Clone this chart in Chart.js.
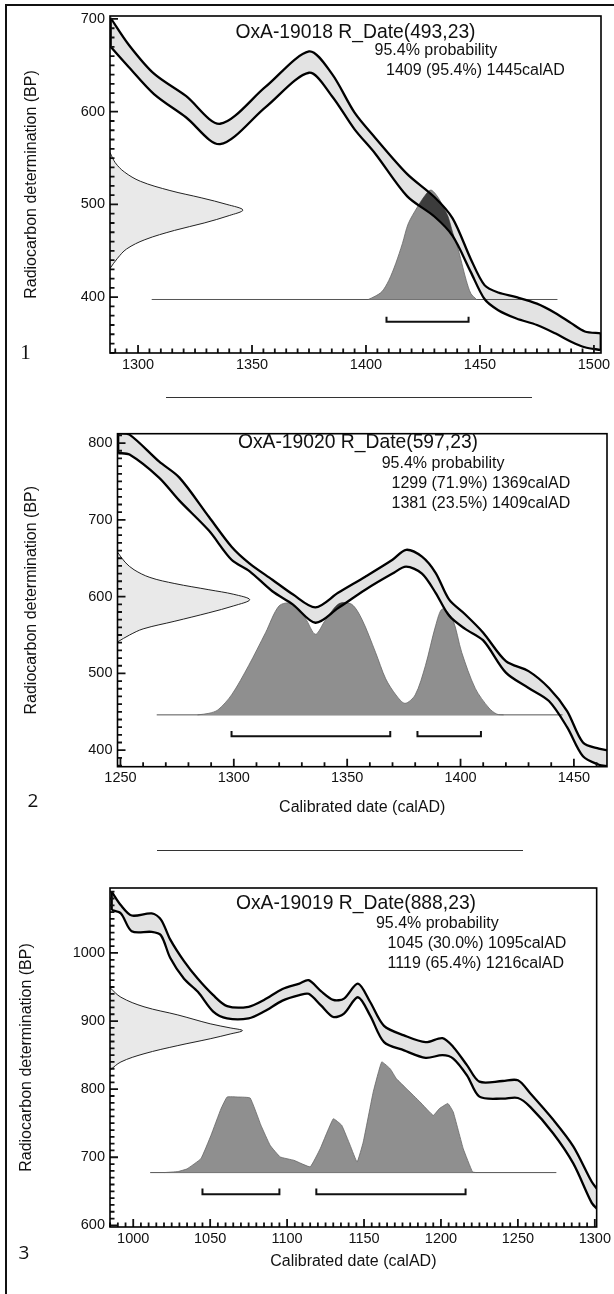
<!DOCTYPE html>
<html>
<head>
<meta charset="utf-8">
<script src="https://cdn.jsdelivr.net/npm/chart.js@4.4.0/dist/chart.umd.min.js"></script>
<style>
  html, body { margin: 0; padding: 0; background: #fff; }
  body { width: 614px; height: 1294px; position: relative; overflow: hidden;
         font-family: "Liberation Sans", Arial, sans-serif; color: #111; }
  canvas { position: absolute; left: 0; }
  .ln { position: absolute; background: #111; }
  .t { position: absolute; white-space: nowrap; line-height: 20px; }
  .ttl { font-size: 19.3px; transform: translateX(-50%); }
  .sub { font-size: 16px; }
  .num { position: absolute; line-height: 24px; transform: translateX(-50%); }
</style>
</head>
<body>
<div class="ln" style="left:5px; top:4px; width:609px; height:1.5px"></div>
<div class="ln" style="left:5px; top:4px; width:1.5px; height:1290px"></div>
<div class="ln" style="left:166px; top:396.5px; width:366px; height:1.2px; background:#333"></div>
<div class="ln" style="left:157px; top:849.5px; width:366px; height:1.2px; background:#333"></div>

<canvas id="c1" width="614" height="380" style="top:0px"></canvas>
<canvas id="c2" width="614" height="410" style="top:420px"></canvas>
<canvas id="c3" width="614" height="420" style="top:870px"></canvas>

<div class="t ttl" style="left:355.5px; top:21.7px">OxA-19018 R_Date(493,23)</div>
<div class="t sub" style="left:374.5px; top:40px">95.4% probability</div>
<div class="t sub" style="left:386px; top:60px">1409 (95.4%) 1445calAD</div>

<div class="t ttl" style="left:358px; top:431.7px">OxA-19020 R_Date(597,23)</div>
<div class="t sub" style="left:381.7px; top:453.3px">95.4% probability</div>
<div class="t sub" style="left:391.5px; top:473.3px">1299 (71.9%) 1369calAD</div>
<div class="t sub" style="left:391.5px; top:493.3px">1381 (23.5%) 1409calAD</div>

<div class="t ttl" style="left:356px; top:893.3px">OxA-19019 R_Date(888,23)</div>
<div class="t sub" style="left:375.9px; top:913.3px">95.4% probability</div>
<div class="t sub" style="left:387.6px; top:933.3px">1045 (30.0%) 1095calAD</div>
<div class="t sub" style="left:387.6px; top:953.3px">1119 (65.4%) 1216calAD</div>

<div class="num" style="left:25.5px; top:339.7px; font-family:'Liberation Serif', serif; font-size:21px">1</div>
<div class="num" style="left:33px; top:788px; font-family:'Open Sans', sans-serif; font-size:19px">2</div>
<div class="num" style="left:24px; top:1240px; font-family:'Open Sans', sans-serif; font-size:19px">3</div>

<script>
// ---- plot 1 : OxA-19018 ----
const curveYears1 = [1288, 1296, 1307, 1321, 1336, 1356, 1375, 1385, 1395, 1404, 1418, 1430, 1438, 1446, 1452, 1458, 1466, 1475, 1483, 1490, 1496, 1503];
const curveUpper1 = [701, 672, 641, 617, 587, 627, 665, 641, 599, 572, 533, 508, 485, 441, 413, 405, 400, 393, 383, 372, 363, 361];
const curveLower1 = [670, 648, 619, 594, 565, 605, 642, 617, 581, 555, 509, 487, 466, 427, 398, 386, 377, 370, 361, 352, 346, 343];
const measBP1 = [556, 545, 535, 525, 515, 507, 500, 494, 488, 480, 472, 462, 452, 442, 431];
const measYr1 = [1287.7, 1290, 1294, 1301, 1314, 1328, 1339, 1346, 1340, 1329, 1316, 1303, 1295, 1291, 1287.7];
const calYr1 = [1401, 1404, 1407, 1410, 1413, 1416, 1418.5, 1422.5, 1426, 1428.5, 1431.5, 1434, 1436, 1438, 1440.5, 1442.5, 1444, 1446, 1448.5];
const calBP1 = [397.5, 401, 406, 418, 436, 458, 479, 497, 510, 515.5, 508, 497, 487, 470, 451, 432, 418, 404, 397.5];
const baseline1 = [1306, 1484];
const ranges1 = [[1409, 1445]];
const xTicks1 = [1300, 1350, 1400, 1450, 1500];
const yTicks1 = [400, 500, 600, 700];

// ---- plot 2 : OxA-19020 ----
const curveYears2 = [1249, 1254, 1267, 1276, 1289, 1299, 1307, 1317, 1326, 1336, 1346, 1358, 1370, 1376, 1383, 1389, 1395, 1402, 1410, 1420, 1430, 1439, 1447, 1454, 1461, 1465];
const curveUpper2 = [813, 811, 776, 755, 704, 665, 643, 622, 603, 586, 605, 626, 648, 661, 652, 631, 596, 577, 553, 516, 503, 481, 451, 410, 402, 400];
const curveLower2 = [787, 785, 755, 725, 686, 648, 633, 607, 590, 566, 585, 609, 630, 639, 630, 605, 575, 558, 543, 501, 481, 464, 430, 392, 381, 379];
const measBP2 = [658, 645, 635, 625, 617, 609, 603, 596, 588, 579, 568, 558, 550, 541];
const measYr2 = [1248.7, 1252, 1256, 1263, 1274, 1289, 1300, 1307, 1300, 1289, 1274, 1260, 1254, 1248.7];
const calYr2 = [1284, 1289, 1293, 1299, 1306.5, 1314, 1320, 1325.5, 1331.5, 1336, 1340.5, 1346.5, 1352, 1356.5, 1362.5, 1367, 1371.5, 1375.5, 1380, 1384.5, 1389, 1392, 1396.5, 1400.5, 1406.5, 1412.5, 1416, 1419];
const calBP2 = [446, 448, 452.5, 472, 510, 553, 588, 591, 572, 551, 570, 591, 590, 570.5, 527.5, 493, 472, 461, 472, 510, 562, 584, 570.5, 527.5, 480.5, 455, 447, 446];
const baseline2 = [1266, 1445];
const ranges2 = [[1299, 1369], [1381, 1409]];
const xTicks2 = [1250, 1300, 1350, 1400, 1450];
const yTicks2 = [400, 500, 600, 700, 800];

// ---- plot 3 : OxA-19019 ----
const curveYears3 = [986, 992, 999, 1012, 1018, 1024, 1033, 1042, 1052, 1061, 1075, 1085, 1097, 1108, 1114, 1122, 1130, 1137, 1146, 1154, 1163, 1176, 1190, 1201, 1208, 1217, 1225, 1240, 1250, 1258, 1273, 1286, 1298, 1302];
const curveUpper3 = [1090, 1070, 1055, 1058, 1049, 1020, 988, 962, 938, 922, 921, 931, 947, 955, 960, 944, 931, 933, 955, 928, 893, 879, 869, 875, 862, 835, 811, 812, 813, 794, 755, 716, 664, 652];
const curveLower3 = [1063, 1058, 1032, 1031, 1026, 993, 962, 943, 914, 904, 904, 914, 930, 938, 940, 923, 906, 911, 935, 908, 869, 857, 846, 850, 845, 820, 789, 786, 787, 774, 735, 691, 633, 623];
const measBP3 = [949, 935, 921, 909, 896, 890, 886, 881, 874, 864, 852, 840, 828];
const measYr3 = [984.9, 992, 1007, 1029, 1050, 1063, 1071, 1063, 1050, 1029, 1007, 992, 984.9];
const calYr3 = [1020, 1029, 1035, 1044, 1050.5, 1057, 1061, 1068, 1076, 1083, 1089, 1095.5, 1104.5, 1115, 1121.5, 1130, 1135.5, 1141, 1145.5, 1149.5, 1156, 1161.5, 1167, 1171, 1177.5, 1186.5, 1195, 1199, 1204.5, 1208, 1214.5, 1220.5, 1223];
const calBP3 = [677.5, 679, 683, 698, 732, 771, 788.5, 788.5, 787, 747, 717.5, 700.5, 695.5, 686, 712.5, 756.5, 747, 717.5, 693, 722.5, 796, 840, 830, 815.5, 801, 781, 761.5, 771.5, 779, 766.5, 712.5, 678.5, 677.5];
const baseline3 = [1011, 1275];
const ranges3 = [[1045, 1095], [1119, 1216]];
const xTicks3 = [1000, 1050, 1100, 1150, 1200, 1250, 1300];
const yTicks3 = [600, 700, 800, 900, 1000];

const FONT = 'Liberation Sans';

function pts(xs, ys) {
    return xs.map((x, i) => ({ x: x, y: ys[i] }));
}

// inward ticks, frame, and the dark overlap of calibration band / distribution
function oxcalBits(L) {
    return {
        id: 'oxcalBits',
        afterDatasetDraw(chart, args) {
            const ds = chart.data.datasets[args.index];
            if (!ds.darkOverlap) return;
            const ctx = chart.ctx, a = chart.chartArea;
            const up = chart.getDatasetMeta(0).dataset;
            const lo = chart.getDatasetMeta(1).dataset;
            ctx.save();
            ctx.beginPath();
            ctx.rect(a.left, a.top, a.width, a.height);
            ctx.clip();
            ctx.beginPath();
            up.path(ctx);
            ctx.lineTo(a.right + 50, a.bottom + 50);
            ctx.lineTo(a.left - 50, a.bottom + 50);
            ctx.closePath();
            ctx.clip();
            ctx.beginPath();
            lo.path(ctx);
            ctx.lineTo(a.right + 50, a.top - 50);
            ctx.lineTo(a.left - 50, a.top - 50);
            ctx.closePath();
            ctx.clip();
            ctx.beginPath();
            args.meta.dataset.path(ctx);
            ctx.closePath();
            ctx.fillStyle = ds.darkOverlap;
            ctx.fill();
            ctx.restore();
        },
        afterDraw(chart) {
            const ctx = chart.ctx, a = chart.chartArea;
            const x = chart.scales.x, y = chart.scales.y;
            ctx.save();
            ctx.strokeStyle = '#111';
            ctx.lineWidth = 1.8;
            ctx.beginPath();
            const x0 = Math.ceil(x.min / L.xMinor) * L.xMinor;
            for (let v = x0; v <= x.max; v += L.xMinor) {
                const px = x.getPixelForValue(v);
                ctx.moveTo(px, a.bottom);
                ctx.lineTo(px, a.bottom - (v % 50 === 0 ? 8 : 4.5));
            }
            const y0 = Math.ceil(y.min / L.yMinor) * L.yMinor;
            for (let v = y0; v <= y.max; v += L.yMinor) {
                const py = y.getPixelForValue(v);
                ctx.moveTo(a.left, py);
                ctx.lineTo(a.left + (v % 100 === 0 ? 8 : 4.5), py);
            }
            ctx.stroke();
            ctx.strokeStyle = '#000';
            ctx.lineWidth = 1.6;
            ctx.strokeRect(a.left, a.top, a.width, a.height);
            ctx.restore();
        }
    };
}

function makePlot(L, d) {
    const n = d.years.length - 1;
    const datasets = [
        // band fill
        { data: pts(d.years, d.upper), borderWidth: 0, borderColor: 'transparent', backgroundColor: '#e3e3e3', fill: '+1', tension: 0.3, order: 10 },
        { data: pts(d.years, d.lower), borderWidth: 0, borderColor: 'transparent', fill: false, tension: 0.3, order: 9 },
        // radiocarbon measurement
        { data: pts(d.measYr, d.measBP), borderColor: '#222', borderWidth: 1, backgroundColor: '#e9e9e9', fill: 'shape', tension: 0.35, order: 8 },
        // baseline of calibrated distribution
        { data: [{ x: d.baseline[0], y: L.base }, { x: d.baseline[1], y: L.base }], borderColor: '#555', borderWidth: 1, fill: false, order: 7 },
        // calibrated distribution
        { data: pts(d.calYr, d.calBP), borderColor: '#666', borderWidth: 0.8, backgroundColor: '#8f8f8f', fill: 'shape', tension: L.calTension, order: 6, darkOverlap: '#3c3c3c' },
        // band outlines
        { data: pts(d.years, d.upper), borderColor: '#000', borderWidth: 2.3, fill: false, tension: 0.3, order: 4 },
        { data: pts(d.years, d.lower), borderColor: '#000', borderWidth: 2.3, fill: false, tension: 0.3, order: 4 },
        { data: [{ x: d.years[0], y: d.lower[0] }, { x: d.years[0], y: d.upper[0] }], borderColor: '#000', borderWidth: 2.3, fill: false, order: 3 },
        { data: [{ x: d.years[n], y: d.lower[n] }, { x: d.years[n], y: d.upper[n] }], borderColor: '#000', borderWidth: 2.3, fill: false, order: 3 }
    ];
    d.ranges.forEach(r => {
        datasets.push({
            data: [{ x: r[0], y: L.barTop }, { x: r[0], y: L.barY }, { x: r[1], y: L.barY }, { x: r[1], y: L.barTop }],
            borderColor: '#111', borderWidth: 2, fill: false, tension: 0, order: 1
        });
    });

    const xTitle = L.xTitle
        ? { display: true, text: L.xTitle, color: '#111', font: { family: FONT, size: 16 }, padding: { top: 0, bottom: L.xTitlePad } }
        : { display: false };

    return new Chart(document.getElementById(L.canvas), {
        type: 'line',
        data: { datasets: datasets },
        options: {
            responsive: false,
            animation: false,
            events: [],
            layout: { autoPadding: false, padding: { left: 0, right: L.padRight, top: L.padTop, bottom: 0 } },
            elements: { point: { radius: 0 } },
            plugins: {
                legend: { display: false },
                tooltip: { enabled: false }
            },
            scales: {
                x: {
                    type: 'linear', position: 'bottom', min: L.xMin, max: L.xMax,
                    grid: { display: false, drawTicks: false },
                    border: { display: false },
                    ticks: { color: '#111', font: { family: FONT, size: 14.5 }, padding: 3, maxRotation: 0, autoSkip: false,
                             callback: v => String(v) },
                    afterBuildTicks: s => { s.ticks = d.xTicks.map(v => ({ value: v })); },
                    afterFit: s => { s.height = L.xH; },
                    title: xTitle
                },
                y: {
                    type: 'linear', position: 'left', min: L.yMin, max: L.yMax,
                    grid: { display: false, drawTicks: false },
                    border: { display: false },
                    ticks: { color: '#111', font: { family: FONT, size: 14.5 }, padding: 5, callback: v => String(v) },
                    afterBuildTicks: s => { s.ticks = d.yTicks.map(v => ({ value: v })); },
                    afterFit: s => { s.width = L.yW; },
                    title: { display: true, text: 'Radiocarbon determination (BP)', color: '#111', font: { family: FONT, size: 16 }, padding: { top: L.yTitlePad, bottom: 0 } }
                }
            }
        },
        plugins: [oxcalBits(L)]
    });
}

makePlot(
    { canvas: 'c1', xMin: 1287.7, xMax: 1503.1, yMin: 339.8, yMax: 703.2, base: 397.5, barY: 373.5, barTop: 379,
      xMinor: 5, yMinor: 10, yW: 110, xH: 27, padTop: 16, padRight: 13, yTitlePad: 22, xTitle: null, calTension: 0.3 },
    { years: curveYears1, upper: curveUpper1, lower: curveLower1, measYr: measYr1, measBP: measBP1,
      calYr: calYr1, calBP: calBP1, baseline: baseline1, ranges: ranges1, xTicks: xTicks1, yTicks: yTicks1 }
);

makePlot(
    { canvas: 'c2', xMin: 1248.7, xMax: 1464.6, yMin: 378.5, yMax: 812.2, base: 446, barY: 418, barTop: 425,
      xMinor: 10, yMinor: 10, yW: 117.5, xH: 63.3, padTop: 9.5, padRight: 7, yTitlePad: 22,
      xTitle: 'Calibrated date (calAD)', xTitlePad: 12.7, calTension: 0.3 },
    { years: curveYears2, upper: curveUpper2, lower: curveLower2, measYr: measYr2, measBP: measBP2,
      calYr: calYr2, calBP: calBP2, baseline: baseline2, ranges: ranges2, xTicks: xTicks2, yTicks: yTicks2 }
);

makePlot(
    { canvas: 'c3', xMin: 984.9, xMax: 1301.2, yMin: 597.6, yMax: 1095.4, base: 677.5, barY: 645.6, barTop: 654,
      xMinor: 5, yMinor: 10, yW: 110, xH: 63, padTop: 18, padRight: 15, yTitlePad: 16.5,
      xTitle: 'Calibrated date (calAD)', xTitlePad: 19.3, calTension: 0.1 },
    { years: curveYears3, upper: curveUpper3, lower: curveLower3, measYr: measYr3, measBP: measBP3,
      calYr: calYr3, calBP: calBP3, baseline: baseline3, ranges: ranges3, xTicks: xTicks3, yTicks: yTicks3 }
);
</script>
</body>
</html>
